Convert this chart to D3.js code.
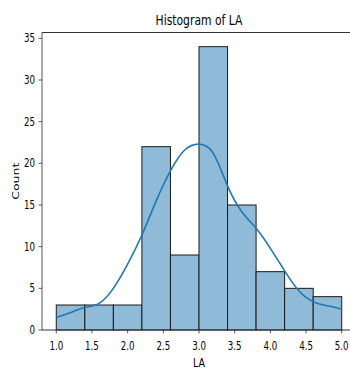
<!DOCTYPE html>
<html>
<head>
<meta charset="utf-8">
<script src="https://cdn.jsdelivr.net/npm/d3@7"></script>
<style>
  html, body { margin: 0; padding: 0; background: #fff; }
  text { font-family: "DejaVu Sans", sans-serif; fill: #000; }
</style>
</head>
<body>
<svg id="chart" width="350" height="369"></svg>
<script>
// Histogram bins (edges) and counts
const binStarts = [1.0, 1.4, 1.8, 2.2, 2.6, 3.0, 3.4, 3.8, 4.2, 4.6];
const binWidth = 0.4;
const counts = [3, 3, 3, 22, 9, 34, 15, 7, 5, 4];

// KDE curve (scaled to counts)
const kdeX = [1.0, 1.2, 1.4, 1.6, 1.8, 2.0, 2.2, 2.4, 2.6, 2.8, 3.0, 3.2, 3.4, 3.6, 3.8, 4.0, 4.2, 4.4, 4.6, 4.8, 5.0];
const kdeY = [1.5, 2.1, 2.7, 3.2, 5.0, 7.9, 11.4, 15.5, 19.1, 21.6, 22.3, 21.2, 17.3, 14.2, 12.2, 9.8, 7.1, 4.7, 3.4, 2.9, 2.5];

const xTicks = [1.0, 1.5, 2.0, 2.5, 3.0, 3.5, 4.0, 4.5, 5.0];
const yTicks = [0, 5, 10, 15, 20, 25, 30, 35];

const title = "Histogram of LA";
const xLabel = "LA";
const yLabel = "Count";

const svg = d3.select("#chart");
const mLeft = 42, mRight = 356, mTop = 32.5, mBottom = 330;
const sq = 0.76; // horizontal text squeeze

const x = d3.scaleLinear().domain([0.8, 5.2]).range([mLeft, mRight]);
const y = d3.scaleLinear().domain([0, 35.7]).range([mBottom, mTop]);

// bars
svg.append("g").selectAll("rect")
  .data(binStarts.map((s, i) => ({s, c: counts[i]})))
  .join("rect")
  .attr("x", d => x(d.s))
  .attr("width", d => x(d.s + binWidth) - x(d.s))
  .attr("y", d => y(d.c))
  .attr("height", d => y(0) - y(d.c))
  .attr("fill", "#8fbbd9")
  .attr("stroke", "#1a1a1a")
  .attr("stroke-width", 1);

// KDE line
const line = d3.line()
  .x(d => x(d[0]))
  .y(d => y(d[1]))
  .curve(d3.curveNatural);
svg.append("path")
  .datum(kdeX.map((v, i) => [v, kdeY[i]]))
  .attr("d", line)
  .attr("fill", "none")
  .attr("stroke", "#1f77b4")
  .attr("stroke-width", 1.6);

// spines
svg.append("line").attr("x1", mLeft).attr("x2", mLeft).attr("y1", mTop).attr("y2", mBottom)
  .attr("stroke", "#555").attr("stroke-width", 1);
svg.append("line").attr("x1", mLeft).attr("x2", mRight).attr("y1", mTop).attr("y2", mTop)
  .attr("stroke", "#333").attr("stroke-width", 1);
svg.append("line").attr("x1", mLeft).attr("x2", mRight).attr("y1", mBottom).attr("y2", mBottom)
  .attr("stroke", "#333").attr("stroke-width", 1);
svg.append("line").attr("x1", mRight).attr("x2", mRight).attr("y1", mTop).attr("y2", mBottom)
  .attr("stroke", "#333").attr("stroke-width", 1);

// x axis ticks
const xg = svg.append("g");
xTicks.forEach(t => {
  xg.append("line").attr("x1", x(t)).attr("x2", x(t)).attr("y1", mBottom).attr("y2", mBottom + 3.5)
    .attr("stroke", "#333").attr("stroke-width", 0.8);
  xg.append("text")
    .attr("transform", `translate(${x(t)},${350}) scale(${sq},1)`)
    .attr("text-anchor", "middle")
    .attr("font-size", 11.4)
    .text(d3.format(".1f")(t));
});

// y axis ticks
const yg = svg.append("g");
yTicks.forEach(t => {
  yg.append("line").attr("x1", mLeft - 3.5).attr("x2", mLeft).attr("y1", y(t)).attr("y2", y(t))
    .attr("stroke", "#333").attr("stroke-width", 0.8);
  yg.append("text")
    .attr("transform", `translate(${mLeft - 7},${y(t) + 4}) scale(${sq},1)`)
    .attr("text-anchor", "end")
    .attr("font-size", 11.4)
    .text(t);
});

// title
svg.append("text")
  .attr("transform", `translate(${(mLeft + mRight) / 2},${25}) scale(0.8,1)`)
  .attr("text-anchor", "middle")
  .attr("font-size", 13.5)
  .text(title);

// x label
svg.append("text")
  .attr("transform", `translate(${(mLeft + mRight) / 2},${367}) scale(${sq},1)`)
  .attr("text-anchor", "middle")
  .attr("font-size", 12.5)
  .text(xLabel);

// y label
svg.append("text")
  .attr("transform", `translate(${19},${(mTop + mBottom) / 2}) scale(${sq},1) rotate(-90)`)
  .attr("text-anchor", "middle")
  .attr("font-size", 12.5)
  .text(yLabel);
</script>
</body>
</html>
